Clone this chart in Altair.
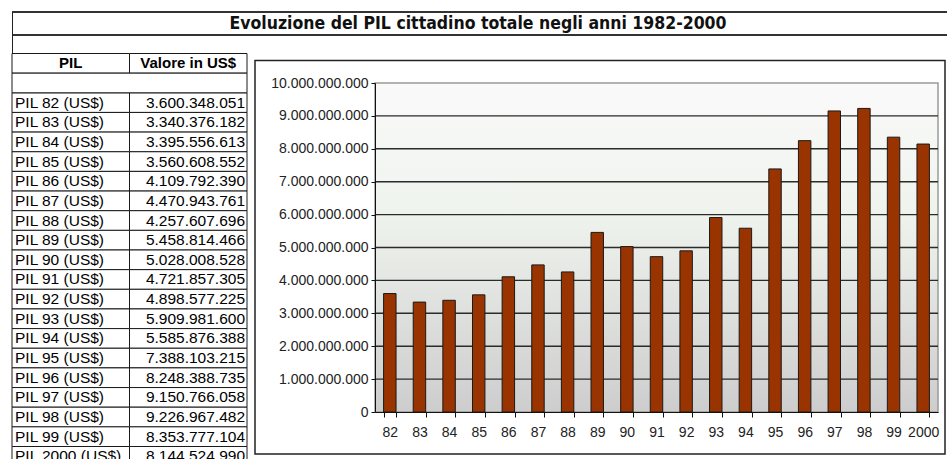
import altair as alt
import pandas as pd

# ---------------- data ----------------
title_text = "Evoluzione del PIL cittadino totale negli anni 1982-2000"
header_labels = ["PIL", "Valore in US$"]
years = ["82", "83", "84", "85", "86", "87", "88", "89", "90", "91",
         "92", "93", "94", "95", "96", "97", "98", "99", "2000"]
pil_values = [3600348051, 3340376182, 3395556613, 3560608552, 4109792390,
              4470943761, 4257607696, 5458814466, 5028008528, 4721857305,
              4898577225, 5909981600, 5585876388, 7388103215, 8248388735,
              9150766058, 9226967482, 8353777104, 8144524990]
row_labels = [f"PIL {y} (US$)" for y in years]
y_ticks = [i * 1_000_000_000 for i in range(11)]
grid_values = y_ticks[1:-1]


def it_fmt(v):
    return f"{v:,}".replace(",", ".")


bars_df = pd.DataFrame({"anno": years, "pil": pil_values})
grid_df = pd.DataFrame({"v": grid_values})
row_keys = ["hdr", "blank"] + row_labels
cells = [{"row": "hdr", "col": c, "text": h} for c, h in zip(["c1", "c2"], header_labels)]
for lab, v in zip(row_labels, pil_values):
    cells.append({"row": lab, "col": "c1", "text": lab})
    cells.append({"row": lab, "col": "c2", "text": it_fmt(v)})
cells_df = pd.DataFrame(cells)
one = pd.DataFrame({"k": [0]})

# ---------------- layout constants ----------------
W, H = 947, 459
FONT = "Liberation Sans"
ROW_STEP = 19.65
TABLE_TOP = 53.5
TL, TR = 12, 247
HALF_COL = (TR - TL) / 4.0
PL, PR, PT, PB = 375, 938, 83, 412   # plot area

tx = alt.Scale(domain=["c1", "c2"], range=[TL, TR], paddingInner=0, paddingOuter=0)
ty = alt.Scale(domain=row_keys, range=[TABLE_TOP, TABLE_TOP + ROW_STEP * len(row_keys)],
               paddingInner=0, paddingOuter=0)
bx = alt.Scale(domain=years, range=[PL, PR], paddingInner=0.58, paddingOuter=0.29)
by = alt.Scale(domain=[0, 10_000_000_000], range=[PB, PT], nice=False, zero=True)

# ---------------- title band ----------------
title_lines = alt.layer(
    alt.Chart(one).mark_rule(color="#333", strokeWidth=2).encode(
        x=alt.value(12), x2=alt.value(W), y=alt.value(12)),
    alt.Chart(one).mark_rule(color="#333", strokeWidth=2).encode(
        x=alt.value(12), x2=alt.value(W), y=alt.value(35)),
    alt.Chart(one).mark_rule(color="#222", strokeWidth=1).encode(
        x=alt.value(12.5), y=alt.value(12), y2=alt.value(54)),
)
title_mark = alt.Chart(one).mark_text(
    font="Liberation Sans Narrow, DejaVu Sans Condensed, Liberation Sans",
    fontWeight="bold", fontSize=17.5, color="#111", baseline="middle", align="center"
).encode(x=alt.value(478), y=alt.value(24), text=alt.value(title_text))

# ---------------- table ----------------
cell_rects = alt.Chart(cells_df).mark_rect(fill="white", stroke="#1a1a1a", strokeWidth=1).encode(
    x=alt.X("col:N", scale=tx, axis=None),
    y=alt.Y("row:N", scale=ty, axis=None),
)
blank_rect = alt.Chart(pd.DataFrame({"row": ["blank"]})).mark_rect(
    fill="white", stroke="#1a1a1a", strokeWidth=1).encode(
    x=alt.XDatum("c1", type="nominal", scale=tx, axis=None, bandPosition=0),
    x2=alt.X2Datum("c2", bandPosition=1),
    y=alt.Y("row:N", scale=ty, axis=None),
)
hdr_text = alt.Chart(cells_df).transform_filter(alt.datum.row == "hdr").mark_text(
    font=FONT, fontSize=15, fontWeight="bold", color="black", align="center", baseline="middle"
).encode(
    x=alt.X("col:N", scale=tx, axis=None),
    y=alt.Y("row:N", scale=ty, axis=None),
    text="text:N",
)
lab_text = alt.Chart(cells_df).transform_filter(
    (alt.datum.row != "hdr") & (alt.datum.col == "c1")).mark_text(
    font=FONT, fontSize=15.5, color="black", align="left", baseline="middle",
    dx=-HALF_COL + 3
).encode(
    x=alt.X("col:N", scale=tx, axis=None),
    y=alt.Y("row:N", scale=ty, axis=None),
    text="text:N",
)
val_text = alt.Chart(cells_df).transform_filter(
    (alt.datum.row != "hdr") & (alt.datum.col == "c2")).mark_text(
    font=FONT, fontSize=15.5, color="black", align="right", baseline="middle",
    dx=HALF_COL - 2
).encode(
    x=alt.X("col:N", scale=tx, axis=None),
    y=alt.Y("row:N", scale=ty, axis=None),
    text="text:N",
)

# ---------------- bar chart ----------------
frame = alt.Chart(one).mark_rect(fill="white", stroke="#222", strokeWidth=1.5).encode(
    x=alt.value(255), x2=alt.value(945), y=alt.value(60.5), y2=alt.value(454))
plot_bg = alt.Chart(one).mark_rect(
    fill=alt.LinearGradient(
        gradient="linear", x1=0, x2=0, y1=0, y2=1,
        stops=[alt.GradientStop(color="#fafafa", offset=0),
               alt.GradientStop(color="#eff3ed", offset=0.4),
               alt.GradientStop(color="#cdcdcd", offset=1)]),
    stroke="#9a9a9a", strokeWidth=1.5
).encode(x=alt.value(PL), x2=alt.value(PR), y=alt.value(PT), y2=alt.value(PB))
grid = alt.Chart(grid_df).mark_rule(color="#2b2b2b", strokeWidth=1.4).encode(
    y=alt.Y("v:Q", scale=by, axis=None),
    x=alt.value(PL), x2=alt.value(PR),
)
bars = alt.Chart(bars_df).mark_bar(color="#993300", stroke="#1a1a1a", strokeWidth=1).encode(
    x=alt.X("anno:N", sort=years, scale=bx, title=None,
            axis=alt.Axis(orient="bottom", offset=-(H - PB), labelAngle=0, tickBand="extent",
                          grid=False, domainColor="#111", tickColor="#111", tickSize=5,
                          labelFont=FONT, labelFontSize=14, labelColor="#222",
                          labelPadding=8, zindex=1)),
    y=alt.Y("pil:Q", scale=by, title=None,
            axis=alt.Axis(orient="left", offset=-PL, values=y_ticks, grid=False,
                          labelExpr="replace(format(datum.value, ',d'), /,/g, '.')",
                          domainColor="#111", tickColor="#111", tickSize=4,
                          labelFont=FONT, labelFontSize=14, labelColor="#222",
                          labelPadding=3, zindex=1)),
)

chart = alt.layer(
    title_lines, title_mark,
    cell_rects, blank_rect, hdr_text, lab_text, val_text,
    frame, plot_bg, grid, bars,
).resolve_scale(x="independent", y="independent").properties(
    width=W, height=H, padding=0, autosize=alt.AutoSizeParams(type="none"),
    background="white",
).configure_view(stroke=None)

chart.save("out.html", embed_options={"renderer": "svg", "actions": False})
